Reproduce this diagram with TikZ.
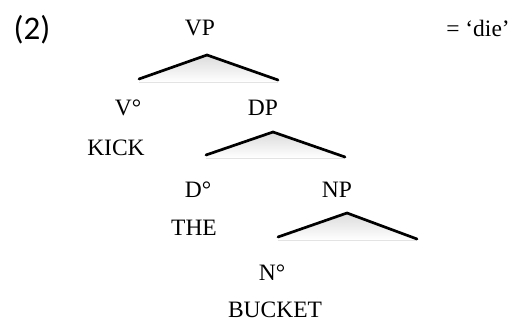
\documentclass[tikz,border=0pt]{standalone}
\usepackage{fontspec}
\setmainfont{Liberation Serif}
\newfontfamily\labelfont{Carlito}
\begin{document}
\begin{tikzpicture}[x=1pt,y=-1pt,
  lbl/.style={inner sep=0pt,anchor=center,font=\fontsize{23.5}{23.5}\selectfont},
  branch/.style={line width=2.7pt,line cap=round,line join=round},
  shade/.style={top color=black!14,bottom color=white,draw=none}]
\useasboundingbox (0,0) rectangle (521,324);
\node[inner sep=0pt,font=\labelfont\fontsize{33}{33}\selectfont] (ex) at (32,30) {(2)};
\node[lbl] (vp) at (200,28) {VP};
\node[lbl] (gloss) at (478,28) {= ‘die’};
\node[lbl] (v) at (128,108) {V°};
\node[lbl] (dp) at (263,108) {DP};
\node[lbl] (kick) at (116,148) {KICK};
\node[lbl] (d) at (198,190) {D°};
\node[lbl] (np) at (337,190) {NP};
\node[lbl] (the) at (194,228) {THE};
\node[lbl] (n) at (272,273) {N°};
\node[lbl] (bucket) at (275,310) {BUCKET};
% branch points
\coordinate (a1) at (207,55); \coordinate (l1) at (139,79); \coordinate (r1) at (278,80);
\coordinate (a2) at (273,132); \coordinate (l2) at (206,155); \coordinate (r2) at (345,157);
\coordinate (a3) at (347,213); \coordinate (l3) at (278,237); \coordinate (r3) at (417,239);
\fill[shade] (l1) -- (a1) -- (r1) -- (278,82) -- (139,82) -- cycle;
\fill[shade] (l2) -- (a2) -- (r2) -- (345,158) -- (206,158) -- cycle;
\fill[shade] (l3) -- (a3) -- (r3) -- (417,240) -- (278,240) -- cycle;
\draw[branch] (l1) -- (a1) -- (r1);
\draw[branch] (l2) -- (a2) -- (r2);
\draw[branch] (l3) -- (a3) -- (r3);
\end{tikzpicture}
\end{document}
